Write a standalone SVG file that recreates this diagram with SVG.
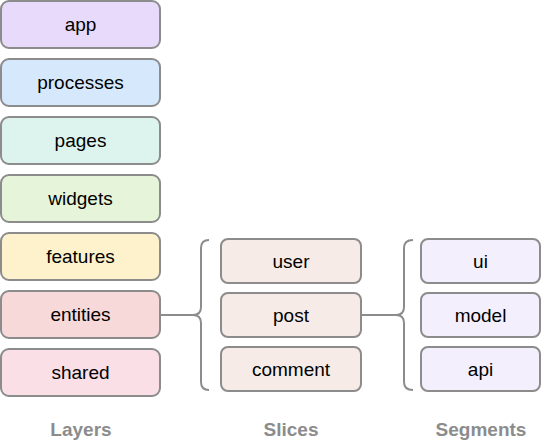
<svg xmlns="http://www.w3.org/2000/svg" width="544" height="443" viewBox="0 0 544 443">
<style>
.b{stroke:#8c8c8c;stroke-width:2}
.t{font-family:"Liberation Sans",Arial,sans-serif;font-size:19px;fill:#000;text-anchor:middle;dominant-baseline:central}
.h{font-family:"Liberation Sans",Arial,sans-serif;font-size:19px;font-weight:bold;fill:#8c8c8c;text-anchor:middle;dominant-baseline:central}
.c{fill:none;stroke:#8c8c8c;stroke-width:2}
</style>
<rect width="544" height="443" fill="#fff"/>
<g id="app"><rect class="b" x="1" y="1" width="159" height="47" rx="8" fill="#e8dafb"/><text class="t" x="80.5" y="24.5">app</text></g>
<g id="processes"><rect class="b" x="1" y="59" width="159" height="47" rx="8" fill="#d6e8fc"/><text class="t" x="80.5" y="82.5">processes</text></g>
<g id="pages"><rect class="b" x="1" y="117" width="159" height="47" rx="8" fill="#ddf4ee"/><text class="t" x="80.5" y="140.5">pages</text></g>
<g id="widgets"><rect class="b" x="1" y="175" width="159" height="47" rx="8" fill="#e6f5d9"/><text class="t" x="80.5" y="198.5">widgets</text></g>
<g id="features"><rect class="b" x="1" y="233" width="159" height="47" rx="8" fill="#fdf2cc"/><text class="t" x="80.5" y="256.5">features</text></g>
<g id="entities"><rect class="b" x="1" y="291" width="159" height="47" rx="8" fill="#f8d9d9"/><text class="t" x="80.5" y="314.5">entities</text></g>
<g id="shared"><rect class="b" x="1" y="349" width="159" height="47" rx="8" fill="#fadfe7"/><text class="t" x="80.5" y="372.5">shared</text></g>
<g id="user"><rect class="b" x="221" y="239" width="140" height="44" rx="7" fill="#f6ebe7"/><text class="t" x="291" y="261">user</text></g>
<g id="post"><rect class="b" x="221" y="293" width="140" height="44" rx="7" fill="#f6ebe7"/><text class="t" x="291" y="315">post</text></g>
<g id="comment"><rect class="b" x="221" y="347" width="140" height="44" rx="7" fill="#f6ebe7"/><text class="t" x="291" y="369">comment</text></g>
<g id="ui"><rect class="b" x="421" y="239" width="119" height="44" rx="7" fill="#f3effc"/><text class="t" x="480.5" y="261">ui</text></g>
<g id="model"><rect class="b" x="421" y="293" width="119" height="44" rx="7" fill="#f3effc"/><text class="t" x="480.5" y="315">model</text></g>
<g id="api"><rect class="b" x="421" y="347" width="119" height="44" rx="7" fill="#f3effc"/><text class="t" x="480.5" y="369">api</text></g>
<g id="connectors">
<path class="c" d="M160 315 H193"/>
<path class="c" d="M209 240 Q201 240 201 248 V307 Q201 315 193 315 Q201 315 201 323 V382 Q201 390 209 390"/>
<path class="c" d="M361 315 H396"/>
<path class="c" d="M413 240 Q404 240 404 248 V307 Q404 315 396 315 Q404 315 404 323 V382 Q404 390 413 390"/>
</g>
<g id="labels">
<text class="h" x="81" y="429">Layers</text>
<text class="h" x="291" y="429">Slices</text>
<text class="h" x="481" y="429">Segments</text>
</g>
</svg>
